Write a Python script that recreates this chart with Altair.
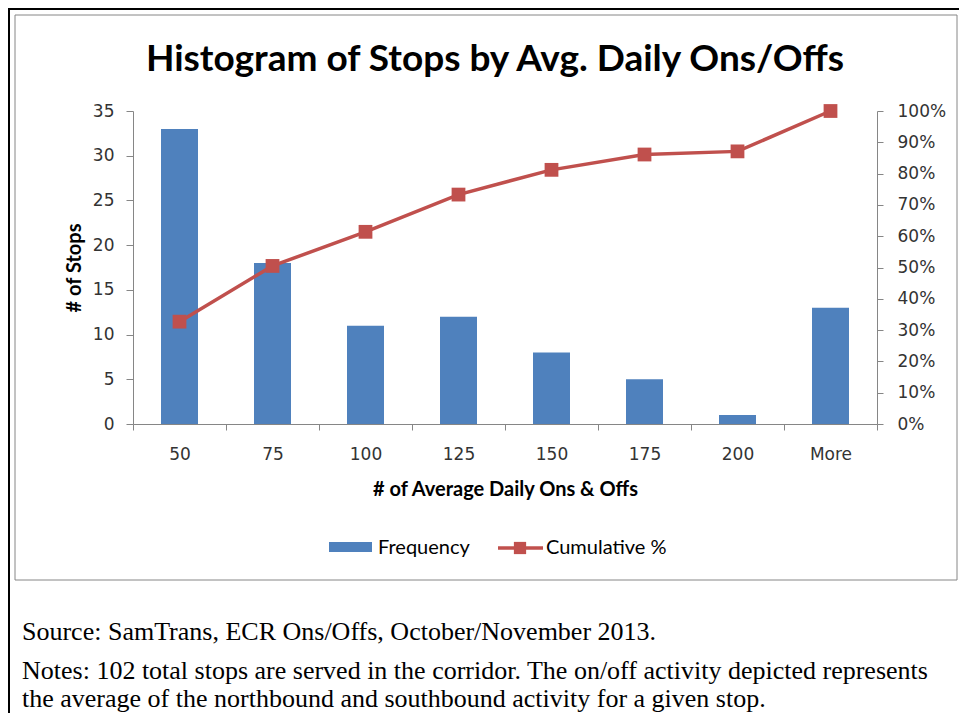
import altair as alt
import pandas as pd

bins = ["50", "75", "100", "125", "150", "175", "200", "More"]
frequency = [33, 18, 11, 12, 8, 5, 1, 13]
cumulative = [32.7, 50.5, 61.4, 73.3, 81.2, 86.1, 87.1, 100.0]
left_ticks = [0, 5, 10, 15, 20, 25, 30, 35]
right_ticks = [0, 10, 20, 30, 40, 50, 60, 70, 80, 90, 100]

title_text = "Histogram of Stops by Avg. Daily Ons/Offs"
x_title = "# of Average Daily Ons & Offs"
y_title = "# of Stops"
legend_labels = ["Frequency", "Cumulative %"]
notes = [
    "Source: SamTrans, ECR Ons/Offs, October/November 2013.",
    "Notes: 102 total stops are served in the corridor. The on/off activity depicted represents",
    "the average of the northbound and southbound activity for a given stop.",
]

BLUE = "#4F81BD"
RED = "#C0504D"
AXIS = "#868686"
LABEL = "#333333"

df = pd.DataFrame({"bin": bins, "freq": frequency, "cum": cumulative})
one = pd.DataFrame({"k": [0]})

W, H = 744, 313

xenc = alt.X(
    "bin:N",
    sort=bins,
    scale=alt.Scale(paddingInner=0, paddingOuter=0),
    axis=alt.Axis(
        title=x_title,
        labelAngle=0,
        tickBand="extent",
        tickSize=6,
        labelPadding=16,
        labelFont="DejaVu Sans",
        labelFontSize=17,
        labelColor=LABEL,
        titleFont="Lato",
        titleFontSize=20,
        titleFontWeight="bold",
        titleColor="#000000",
        titlePadding=17,
        domainColor=AXIS,
        tickColor=AXIS,
        grid=False,
    ),
)

bars = alt.Chart(df).mark_bar(size=37, color=BLUE).encode(
    x=xenc,
    y=alt.Y(
        "freq:Q",
        scale=alt.Scale(domain=[0, 35], nice=False),
        axis=alt.Axis(
            title=y_title,
            values=left_ticks,
            orient="left",
            tickSize=7,
            labelPadding=12,
            labelFont="DejaVu Sans",
            labelFontSize=17,
            labelColor=LABEL,
            titleFont="Lato",
            titleFontSize=20,
            titleFontWeight="bold",
            titleColor="#000000",
            titlePadding=8,
            domainColor=AXIS,
            tickColor=AXIS,
            grid=False,
        ),
    ),
)

cum_y = alt.Y(
    "cum:Q",
    scale=alt.Scale(domain=[0, 100], nice=False),
    axis=alt.Axis(
        title=None,
        values=right_ticks,
        orient="right",
        labelExpr="datum.value + '%'",
        tickSize=6,
        labelPadding=14,
        labelFont="DejaVu Sans",
        labelFontSize=17,
        labelColor=LABEL,
        domainColor=AXIS,
        tickColor=AXIS,
        grid=False,
    ),
)

line = alt.Chart(df).mark_line(
    color=RED, strokeWidth=3.5,
    point=alt.OverlayMarkDef(shape="square", filled=True, size=190, color=RED, opacity=1),
).encode(
    x=alt.X("bin:N", sort=bins),
    y=cum_y,
)

title = alt.Chart(one).mark_text(
    text=title_text, font="Lato", fontSize=37, fontWeight="bold",
    align="center", baseline="middle", color="#000000",
).encode(x=alt.value(362), y=alt.value(-51))

# legend (manual)
leg_rect = alt.Chart(one).mark_rect(color=BLUE).encode(
    x=alt.value(196), x2=alt.value(239), y=alt.value(431), y2=alt.value(441)
)
leg_line = alt.Chart(one).mark_rule(color=RED, strokeWidth=3.5).encode(
    x=alt.value(365), x2=alt.value(410), y=alt.value(437)
)
leg_pt = alt.Chart(one).mark_point(
    shape="square", filled=True, size=150, color=RED, opacity=1
).encode(x=alt.value(387), y=alt.value(437))
leg_t1 = alt.Chart(one).mark_text(
    text=legend_labels[0], font="Lato", fontSize=20, align="left",
    baseline="middle", color="#000000",
).encode(x=alt.value(245), y=alt.value(437))
leg_t2 = alt.Chart(one).mark_text(
    text=legend_labels[1], font="Lato", fontSize=20, align="left",
    baseline="middle", color="#000000",
).encode(x=alt.value(413), y=alt.value(437))

# frames
inner_box = alt.Chart(one).mark_rect(fill=None, stroke=AXIS, strokeWidth=1).encode(
    x=alt.value(-118), x2=alt.value(824), y=alt.value(-96), y2=alt.value(469)
)
outer_box = alt.Chart(one).mark_rect(fill=None, stroke="#000000", strokeWidth=2).encode(
    x=alt.value(-124), x2=alt.value(827), y=alt.value(-102), y2=alt.value(640)
)

note_y = [529, 568, 596]
note_layers = [
    alt.Chart(one).mark_text(
        text=t, font="Liberation Serif", fontSize=26, align="left",
        baseline="alphabetic", color="#000000",
    ).encode(x=alt.value(-111), y=alt.value(yy))
    for t, yy in zip(notes, note_y)
]

chart = alt.layer(
    outer_box, inner_box, bars, line, title,
    leg_rect, leg_line, leg_pt, leg_t1, leg_t2, *note_layers,
).resolve_scale(y="independent").properties(
    width=W, height=H,
    background="white",
    padding={"left": 125, "top": 103, "right": 82, "bottom": 289},
    autosize=alt.AutoSizeParams(type="none"),
).configure_view(strokeWidth=0, stroke="transparent")

chart.save("out.html", embed_options={"renderer": "svg", "actions": False})
